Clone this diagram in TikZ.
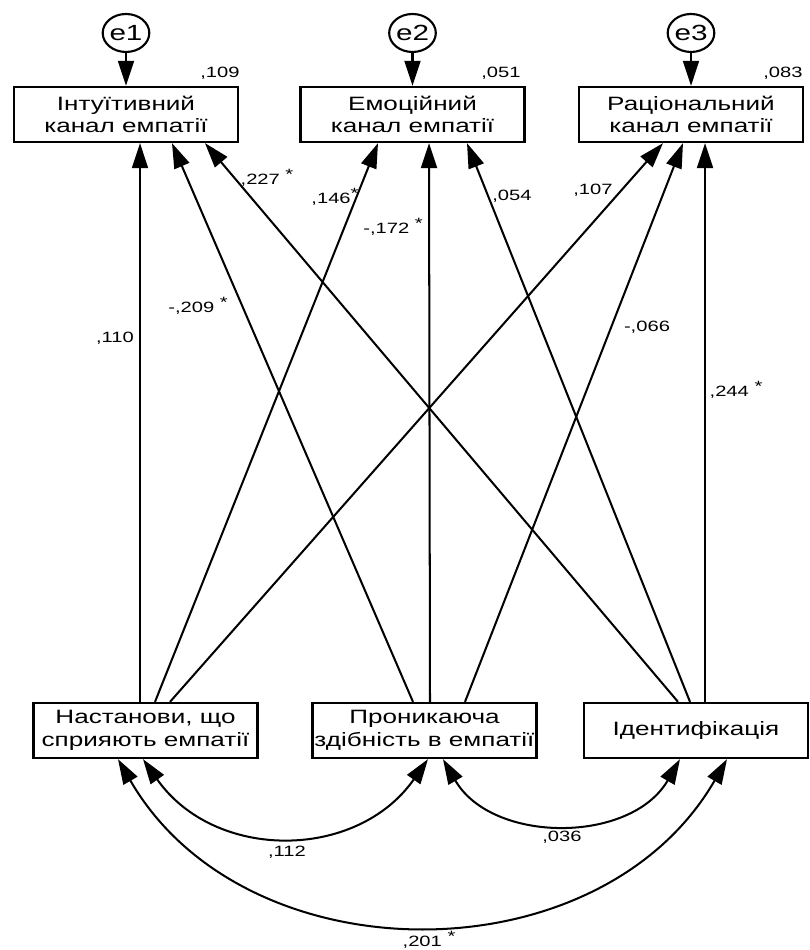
\documentclass[tikz,border=0pt]{standalone}
\usepackage{fontspec}
\setmainfont{Liberation Sans}[FakeStretch=1.35]
\usepackage{tikz}
\usetikzlibrary{arrows.meta}
\usetikzlibrary{shapes.geometric}
\usetikzlibrary{calc}
\newcommand{\sigstar}{\raisebox{0.3em}{*}}

\begin{document}
\begin{tikzpicture}[>={Triangle[length=0.5cm, width=0.32cm]}, x=0.02cm, y=0.02cm]
	\tikzstyle{var} = [draw, line width=1.3pt, minimum width=4.48cm, minimum height=1.1cm, inner sep=0pt, align=center, font=\fontsize{11}{13}\selectfont]
	\tikzstyle{err} = [draw, ellipse, line width=1.2pt, minimum width=0.86cm, minimum height=0.76cm, inner sep=0pt, font=\fontsize{12.5}{14}\selectfont]
	\tikzstyle{coef} = [inner sep=0pt, font=\fontsize{8.5}{10}\selectfont]
	\useasboundingbox (0,0) rectangle (809,950);
	\begin{scope}
	  % outcomes and their errors
	  \path[->, line width=1.15pt]
	  node[var] (I) at (126,835.5) {Інтуїтивний\\канал емпатії}
	  node[var] (E) at (412.5,835.5) {Емоційний\\канал емпатії}
	  node[var] (R) at (691,835.5) {Раціональний\\канал емпатії}
	  node[err] (e1) at (126,917) {e1}
	  node[err] (e2) at (412.5,917) {e2}
	  node[err] (e3) at (691,917) {e3}
	  (e1) edge (I)
	  (e2) edge (E)
	  (e3) edge (R)
	  node[coef] (r1) at (220,877) {,109}
	  node[coef] (r2) at (501,877) {,051}
	  node[coef] (r3) at (783,877) {,083}
	  ;
	\end{scope}
	\begin{scope}
	  % predictors and paths
	  \path[->, line width=1.15pt]
	  node[var] (N) at (145.5,219.5) {Настанови, що\\сприяють емпатії}
	  node[var] (P) at (424.5,219.5) {Проникаюча\\здібність в емпатії}
	  node[var] (D) at (696,219.5) {Ідентифікація}
	  ($(N.north)+(-5.5,0)$) edge ($(I.south)+(14,0)$)
	  ($(N.north)+(9.5,0)$) edge ($(E.south)+(-34.5,0)$)
	  ($(N.north)+(24.5,0)$) edge ($(R.south)+(-28,0)$)
	  ($(P.north)+(-11.5,0)$) edge ($(I.south)+(46,0)$)
	  ($(P.north)+(5.5,0)$) edge ($(E.south)+(16.5,0)$)
	  ($(P.north)+(40.5,0)$) edge ($(R.south)+(-8,0)$)
	  ($(D.north)+(-18,0)$) edge ($(I.south)+(79,0)$)
	  ($(D.north)+(-6,0)$) edge ($(E.south)+(54.5,0)$)
	  ($(D.north)+(9,0)$) edge ($(R.south)+(14,0)$)
	  node[coef] (p1) at (115,612) {,110}
	  node[coef] (p2) at (335,753) {,146\sigstar}
	  node[coef] (p3) at (593,760) {,107}
	  node[coef] (p4) at (198,644) {-,209 \sigstar}
	  node[coef] (p5) at (393,723) {-,172 \sigstar}
	  node[coef] (p6) at (647,623) {-,066}
	  node[coef] (p7) at (267,772) {,227 \sigstar}
	  node[coef] (p8) at (512,754) {,054}
	  node[coef] (p9) at (736,560) {,244 \sigstar}
	  ;
	\end{scope}
	\begin{scope}
	  % covariances
	  \path[<->, line width=1.15pt]
	  ($(N.south)+(-2.5,0)$) edge[out=-55, in=-125, looseness=1.12] ($(P.south)+(3.5,0)$)
	  ($(P.south)+(18.5,0)$) edge[out=-60, in=-120, looseness=1.06] ($(D.south)+(-16,0)$)
	  ($(N.south)+(-27.5,0)$) edge[out=-60, in=-120, looseness=1.07] ($(D.south)+(31,0)$)
	  node[coef] (c1) at (287,98) {,112}
	  node[coef] (c2) at (562,113) {,036}
	  node[coef] (c3) at (429,10) {,201 \sigstar}
	  ;
	\end{scope}
\end{tikzpicture}
\end{document}
